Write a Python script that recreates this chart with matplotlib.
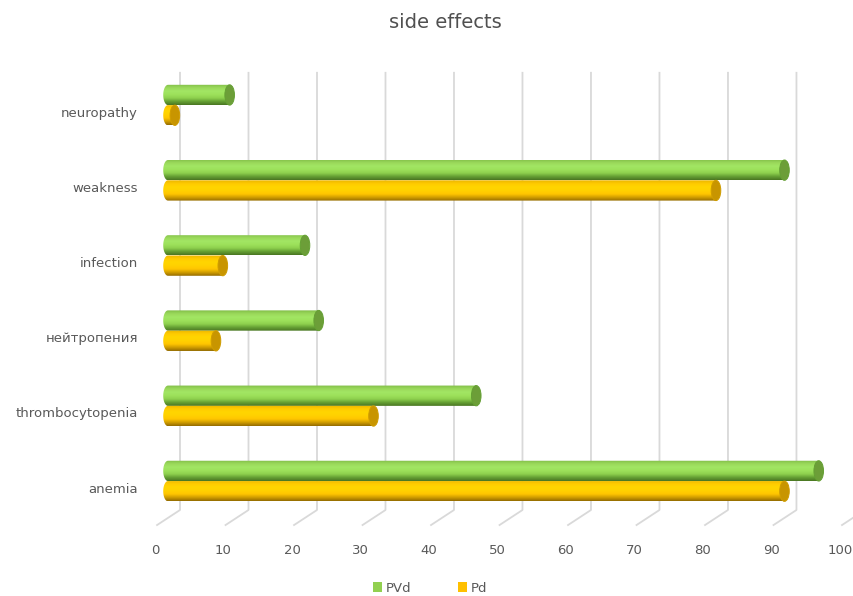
import numpy as np
import matplotlib
matplotlib.use("Agg")
import matplotlib.pyplot as plt
from matplotlib.path import Path
from matplotlib.patches import PathPatch, Ellipse, Patch
from matplotlib.colors import to_rgb

# data
categories = ["anemia", "thrombocytopenia", "нейтропения", "infection", "weakness", "neuropathy"]
pvd = [95, 45, 22, 20, 90, 9]
pd_ = [90, 30, 7, 8, 80, 1]
ticks = [0, 10, 20, 30, 40, 50, 60, 70, 80, 90, 100]

# fake 3d geometry (data units)
back_dx, front_dx = 1.75, -1.6
top_y, floor_back_y, floor_front_y = 5.43, -0.385, -0.585
bar_h = 0.27
rx = 0.7

green_stops = ["#4a7622", "#65a034", "#8ed04e", "#9de15b", "#a2e664", "#9ad85a", "#80bd48"]
green_cap = "#6c9e38"
yellow_stops = ["#946c00", "#cf9c00", "#ffc500", "#ffd100", "#ffd500", "#ffcb00", "#ebb500"]
yellow_cap = "#c89500"
txt = "#595959"
grid_c = "#d9d9d9"

fig = plt.figure(figsize=(8.54, 5.96), dpi=100)
ax = fig.add_axes([140 / 854, 36 / 596, 714 / 854, 500 / 596])
ax.axis("off")

# back wall gridlines + floor diagonals
for t in ticks:
    ax.plot([t + back_dx, t + back_dx, t + front_dx], [top_y, floor_back_y, floor_front_y],
            color=grid_c, lw=1.3, zorder=1, clip_on=False)
    ax.text(t + front_dx - 0.3, -0.917, str(t), ha="center", va="center",
            fontsize=9.5, color=txt, clip_on=False)


def gradient(stops, n=64):
    rgb = np.array([to_rgb(c) for c in stops])
    pos = np.linspace(0, 1, len(stops))
    s = np.linspace(0, 1, n)
    img = np.stack([np.interp(s, pos, rgb[:, k]) for k in range(3)], axis=1)
    return img[:, None, :]


def cylinder(v, y0, stops, cap):
    y1 = y0 + bar_h
    yc = (y0 + y1) / 2
    th = np.linspace(np.pi / 2, 3 * np.pi / 2, 30)
    left = [(rx * np.cos(a), yc + bar_h / 2 * np.sin(a)) for a in th]
    verts = left + [(v, y0), (v, y1), left[0]]
    codes = [Path.MOVETO] + [Path.LINETO] * (len(verts) - 2) + [Path.CLOSEPOLY]
    clip = PathPatch(Path(verts, codes), transform=ax.transData, fc="none", ec="none")
    im = ax.imshow(gradient(stops), extent=[-rx, v, y0, y1], origin="lower",
                   aspect="auto", zorder=3, interpolation="bilinear")
    im.set_clip_path(clip)
    ax.add_patch(Ellipse((v, yc), 2 * rx, bar_h, fc=cap, ec=stops[1], lw=0.7, zorder=4))


for i, cat in enumerate(categories):
    cylinder(pvd[i], i, green_stops, green_cap)
    cylinder(pd_[i], i - bar_h, yellow_stops, yellow_cap)
    ax.text(-4.4, i - 0.106, cat, ha="right", va="center", fontsize=9.5,
            color=txt, clip_on=False)

ax.set_xlim(-4.09, 100.15)
ax.set_ylim(-1.05, 5.6)

fig.text(445 / 854, 1 - 22 / 596, "side effects", ha="center", va="center",
         fontsize=14, color="#505050")

handles = [Patch(fc="#92d050", ec="none"), Patch(fc="#ffc000", ec="none")]
fig.legend(handles, ["PVd", "Pd"], loc="center", bbox_to_anchor=(430 / 854, 1 - 588 / 596),
           ncol=2, frameon=False, fontsize=9.5, handlelength=0.7, handleheight=0.7,
           handletextpad=0.3, columnspacing=3.5, labelcolor=txt)

fig.savefig("out.png", dpi=100)
